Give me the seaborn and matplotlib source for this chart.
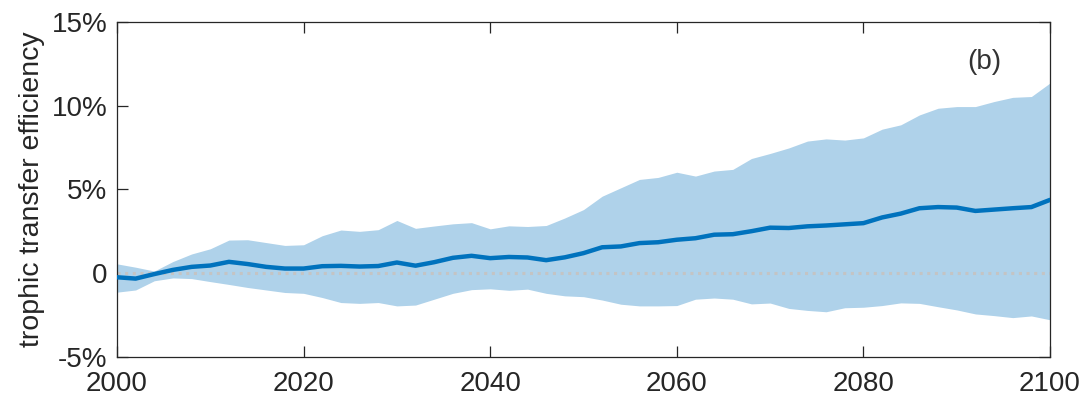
import numpy as np
import pandas as pd
import matplotlib
matplotlib.use("Agg")
import matplotlib.pyplot as plt
import seaborn as sns

# Values (percent), every 2 years
years = list(range(2000, 2101, 2))
mean_tte = [-0.24, -0.32, -0.05, 0.20, 0.38, 0.46, 0.68, 0.55, 0.38, 0.28,
            0.28, 0.42, 0.44, 0.40, 0.43, 0.64, 0.45, 0.66, 0.92, 1.04,
            0.90, 0.97, 0.94, 0.78, 0.95, 1.20, 1.55, 1.60, 1.80, 1.85,
            2.00, 2.09, 2.30, 2.33, 2.51, 2.72, 2.70, 2.80, 2.85, 2.92,
            2.99, 3.33, 3.56, 3.88, 3.95, 3.92, 3.72, 3.80, 3.88, 3.95,
            4.38]
upper_tte = [0.56, 0.36, 0.13, 0.70, 1.15, 1.46, 1.98, 2.00, 1.83, 1.66,
             1.70, 2.24, 2.58, 2.50, 2.60, 3.15, 2.68, 2.82, 2.95, 3.02,
             2.65, 2.83, 2.79, 2.85, 3.30, 3.80, 4.60, 5.10, 5.60, 5.72,
             6.03, 5.80, 6.10, 6.20, 6.85, 7.15, 7.48, 7.89, 8.02, 7.95,
             8.08, 8.60, 8.86, 9.45, 9.85, 9.95, 9.95, 10.25, 10.50, 10.55,
             11.36]
lower_tte = [-1.13, -1.00, -0.45, -0.28, -0.32, -0.50, -0.67, -0.85, -1.00, -1.15,
             -1.20, -1.45, -1.75, -1.80, -1.75, -1.95, -1.90, -1.55, -1.20, -0.98,
             -0.93, -1.02, -0.95, -1.20, -1.35, -1.40, -1.60, -1.85, -1.95, -1.95,
             -1.93, -1.55, -1.48, -1.55, -1.83, -1.78, -2.10, -2.22, -2.30, -2.06,
             -2.03, -1.93, -1.77, -1.80, -2.00, -2.19, -2.43, -2.53, -2.65, -2.55,
             -2.78]

yticks = [-5, 0, 5, 10, 15]
ytick_labels = ["-5%", "0", "5%", "10%", "15%"]
xticks = [2000, 2020, 2040, 2060, 2080, 2100]

df = pd.DataFrame({"year": years, "mean": mean_tte,
                   "upper": upper_tte, "lower": lower_tte})

sns.set_theme(style="ticks")
plt.rcParams["font.family"] = ["Liberation Sans", "DejaVu Sans"]

fig = plt.figure(figsize=(10.87, 3.99), dpi=100)
ax = fig.add_axes([0.1076, 0.1053, 0.8584, 0.8396])

ax.fill_between(df["year"], df["lower"], df["upper"], color="#afd2ea",
                linewidth=0, zorder=1)
ax.axhline(0, color="#c4c4c4", linestyle=(0, (1, 1.5)), linewidth=2.2, zorder=2)
sns.lineplot(data=df, x="year", y="mean", color="#0072bd", linewidth=3.2,
             ax=ax, zorder=3)

ax.set_xlim(2000, 2100)
ax.set_ylim(-5, 15)
ax.set_xticks(xticks)
ax.set_yticks(yticks)
ax.set_yticklabels(ytick_labels)
ax.set_xlabel("")
ax.set_ylabel("trophic transfer efficiency", fontsize=20.5, color="#262626", labelpad=5)

for side in ["top", "right", "left", "bottom"]:
    ax.spines[side].set_visible(True)
    ax.spines[side].set_color("#262626")
    ax.spines[side].set_linewidth(0.9)
ax.tick_params(direction="in", length=8, width=0.9, colors="#262626",
               labelsize=20, top=True, right=True)
ax.tick_params(axis="x", pad=10)
ax.tick_params(axis="y", pad=7)

ax.text(2093, 12.6, "(b)", fontsize=20, color="#333333", ha="center", va="center")

fig.savefig("out.png", dpi=100)
